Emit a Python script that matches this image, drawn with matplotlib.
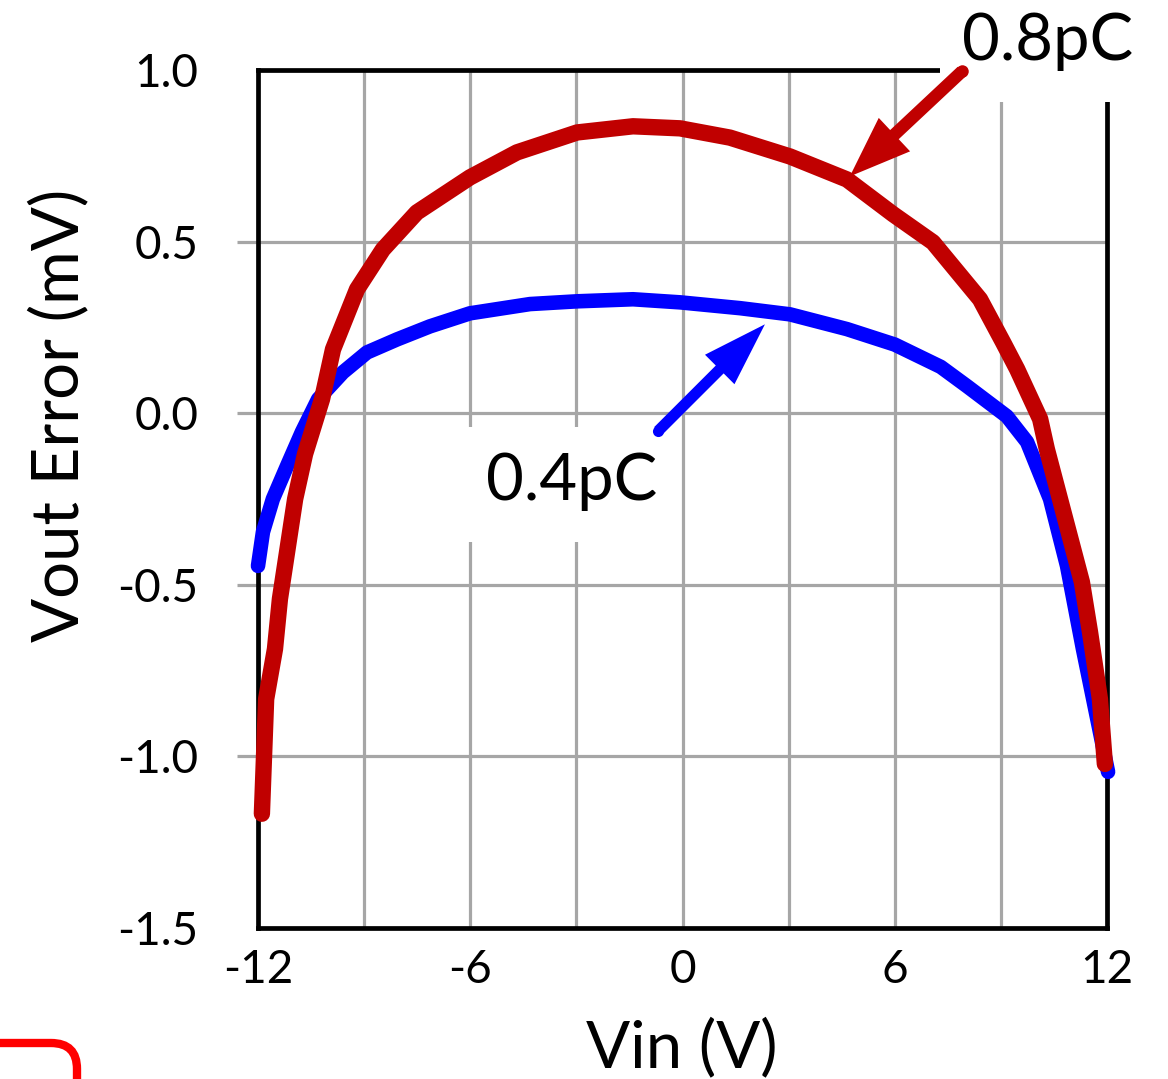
import numpy as np
import matplotlib
matplotlib.use('Agg')
import matplotlib.pyplot as plt
from matplotlib.patches import Rectangle, FancyBboxPatch
from matplotlib.transforms import IdentityTransform

plt.rcParams['font.family'] = ['Lato', 'DejaVu Sans']
plt.rcParams['axes.unicode_minus'] = False

# 0.8pC curve (red)
vin_08 = [-11.89, -11.77, -11.52, -11.38, -10.95, -10.67, -10.19, -9.88, -9.20, -8.47,
          -7.51, -6.01, -4.68, -2.98, -1.40, -0.07, 1.34, 3.04, 4.65, 5.95,
          7.08, 8.41, 9.06, 9.46, 10.11, 10.30, 11.29, 11.52, 11.80, 11.94]
err_08 = [-1.167, -0.833, -0.687, -0.541, -0.250, -0.119, 0.041, 0.186, 0.361, 0.477,
          0.585, 0.687, 0.760, 0.818, 0.836, 0.830, 0.803, 0.748, 0.681, 0.580,
          0.498, 0.332, 0.207, 0.128, -0.017, -0.105, -0.492, -0.638, -0.833, -1.022]

# 0.4pC curve (blue)
vin_04 = [-12.0, -11.86, -11.58, -11.18, -10.76, -10.30, -9.60, -8.92, -8.07, -7.14,
          -6.01, -4.31, -2.98, -1.40, -0.07, 1.63, 3.04, 4.65, 6.00, 7.30, 8.04,
          9.17, 9.74, 10.39, 10.87, 11.32, 11.80, 12.03]
err_04 = [-0.445, -0.346, -0.250, -0.154, -0.055, 0.041, 0.119, 0.177, 0.215, 0.253,
          0.291, 0.318, 0.326, 0.332, 0.323, 0.306, 0.288, 0.245, 0.200, 0.135, 0.079,
          -0.009, -0.084, -0.250, -0.445, -0.687, -0.929, -1.045]

xticks = [-12, -9, -6, -3, 0, 3, 6, 9, 12]
xticklabels = ['-12', '', '-6', '', '0', '', '6', '', '12']
yticks = [-1.5, -1.0, -0.5, 0.0, 0.5, 1.0]
yticklabels = ['-1.5', '-1.0', '-0.5', '0.0', '0.5', '1.0']

red = '#c00000'
blue = '#0000ff'
grey = '#a6a6a6'

fig = plt.figure(figsize=(11.68, 10.79), dpi=100)
ax = fig.add_axes([258/1168, 1 - 928/1079, 849/1168, 858/1079])

ax.plot(vin_04, err_04, color=blue, lw=10.5, solid_capstyle='round', solid_joinstyle='round',
        zorder=3, clip_on=False)
ax.plot(vin_08, err_08, color=red, lw=11.8, solid_capstyle='round', solid_joinstyle='round',
        zorder=3.1, clip_on=False)

ax.set_xlim(-12, 12)
ax.set_ylim(-1.5, 1.0)
ax.set_xticks(xticks)
ax.set_xticklabels(xticklabels)
ax.set_yticks(yticks)
ax.set_yticklabels(yticklabels)
ax.set_axisbelow(True)
ax.grid(True, color=grey, lw=2.3)
ax.tick_params(axis='x', length=0, pad=15, labelsize=33)
ax.tick_params(axis='y', length=15, width=2.3, color=grey, pad=28, labelsize=33)
yt = ax.yaxis.get_major_ticks()
yt[0].tick1line.set_visible(False)
yt[-1].tick1line.set_visible(False)
for s in ax.spines.values():
    s.set_linewidth(3.4)
    s.set_color('black')
    s.set_capstyle('projecting')

# white boxes behind the labels
ax.add_patch(Rectangle(((940 - 258)/849, (928 - 102)/858), 0.4, 0.2, transform=ax.transAxes,
                       facecolor='white', edgecolor='none', clip_on=False, zorder=4))
ax.add_patch(Rectangle(((440 - 258)/849, (928 - 542)/858), (640 - 440)/849, (542 - 427)/858,
                       transform=ax.transAxes, facecolor='white', edgecolor='none',
                       clip_on=False, zorder=4))

ax.annotate('', xy=(4.73, 0.690), xytext=(7.90, 0.996), zorder=5, annotation_clip=False,
            arrowprops=dict(width=9, headwidth=33, headlength=44, shrink=0,
                            facecolor=red, edgecolor='none'))
ax.annotate('', xy=(2.33, 0.259), xytext=(-0.69, -0.052), zorder=5, annotation_clip=False,
            arrowprops=dict(width=8, headwidth=30, headlength=46, shrink=0,
                            facecolor=blue, edgecolor='none'))
# rounded tails of the arrows
ax.plot([7.90], [0.996], 'o', ms=9, color=red, mec='none', zorder=5, clip_on=False)
ax.plot([-0.69], [-0.052], 'o', ms=8, color=blue, mec='none', zorder=5, clip_on=False)

fig.text(1048/1168, 1 - 60/1079, '0.8pC', fontsize=47, ha='center', va='baseline', zorder=6)
fig.text(572/1168, 1 - 500/1079, '0.4pC', fontsize=47, ha='center', va='baseline', zorder=6)

fig.text(682/1168, 1 - 1067/1079, 'Vin (V)', fontsize=47, ha='center', va='baseline')
fig.text(78/1168, 1 - 415/1079, 'Vout Error (mV)', fontsize=47, ha='center', va='baseline',
         rotation=90, rotation_mode='anchor')

# red rounded frame corner at bottom left
fig.add_artist(FancyBboxPatch((-200, -100), 277, 100 + 1079 - 1043,
                              boxstyle='round,pad=0,rounding_size=26',
                              transform=IdentityTransform(), facecolor='none',
                              edgecolor='#ff0000', lw=6))

fig.savefig('out.png', dpi=100)
